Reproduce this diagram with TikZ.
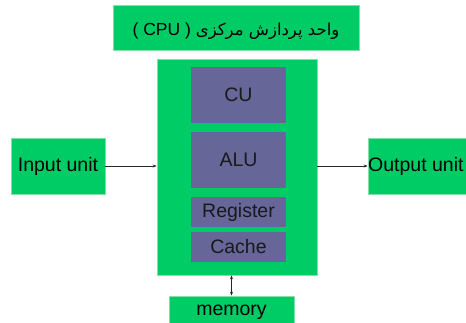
\documentclass[tikz,border=0pt]{standalone}
\usepackage{fontspec}
\setmainfont{Liberation Sans}
\newfontfamily\arabicfont[Script=Arabic]{DejaVu Sans}
\TeXXeTstate=1
\usetikzlibrary{arrows.meta}
\definecolor{boxgreen}{RGB}{0,204,102}
\definecolor{boxedge}{RGB}{130,225,170}
\definecolor{unitpurple}{RGB}{102,102,153}
\begin{document}
\begin{tikzpicture}[x=1pt,y=-1pt,
  gbox/.style={fill=boxgreen, draw=boxedge, line width=0.7pt, inner sep=0pt, text=black},
  pbox/.style={fill=unitpurple, draw=none, inner sep=0pt, text=black!90},
  big/.style={font=\fontsize{19.5}{22}\selectfont},
  arr/.style={-{Stealth[length=4pt,width=3pt]}, line width=0.6pt, draw=black!85},
  darr/.style={{Stealth[length=4pt,width=3pt]}-{Stealth[length=4pt,width=3pt]}, line width=0.6pt, draw=black!85}]
\useasboundingbox (0,0) rectangle (466,322);
\fill[white] (0,0) rectangle (466,322);
% title
\node[gbox, minimum width=246pt, minimum height=45pt] (title) at (236,27.5) {};
\node[inner sep=0pt] (titletext) at (236,31)
  {\fontsize{17.5}{20}\selectfont ( CPU )\ {\arabicfont\fontsize{16.5}{20}\selectfont\beginR واحد پردازش مرکزی\endR}};
% CPU
\node[gbox, minimum width=160pt, minimum height=216pt] (cpu) at (237,167) {};
\node[pbox, big, minimum width=95pt, minimum height=56pt] (cu) at (238.5,95) {CU};
\node[pbox, big, minimum width=95pt, minimum height=56pt] (alu) at (238.5,160) {ALU};
\node[pbox, big, minimum width=95pt, minimum height=30pt] (reg) at (238.5,212) {Register};
\node[pbox, big, minimum width=95pt, minimum height=30pt] (cache) at (238.5,247) {Cache};
% input / output
\node[gbox, big, minimum width=94pt, minimum height=56pt] (input) at (58,166) {Input unit};
\node[gbox, minimum width=98pt, minimum height=56pt] (output) at (417,166) {};
\node[big, anchor=west, inner sep=0pt] (outtext) at (368,166) {Output unit};
% memory
\node[gbox, minimum width=125pt, minimum height=28pt] (memory) at (231.5,310) {};
\node[big, inner sep=0pt] (memtext) at (231.5,312.5) {memory};
% connectors
\draw[arr] (input.east) -- (input.east -| cpu.west);
\draw[arr] (output.west -| cpu.east) -- (output.west);
\draw[darr] (memory.north) -- (memory.north |- cpu.south);
\end{tikzpicture}
\end{document}
